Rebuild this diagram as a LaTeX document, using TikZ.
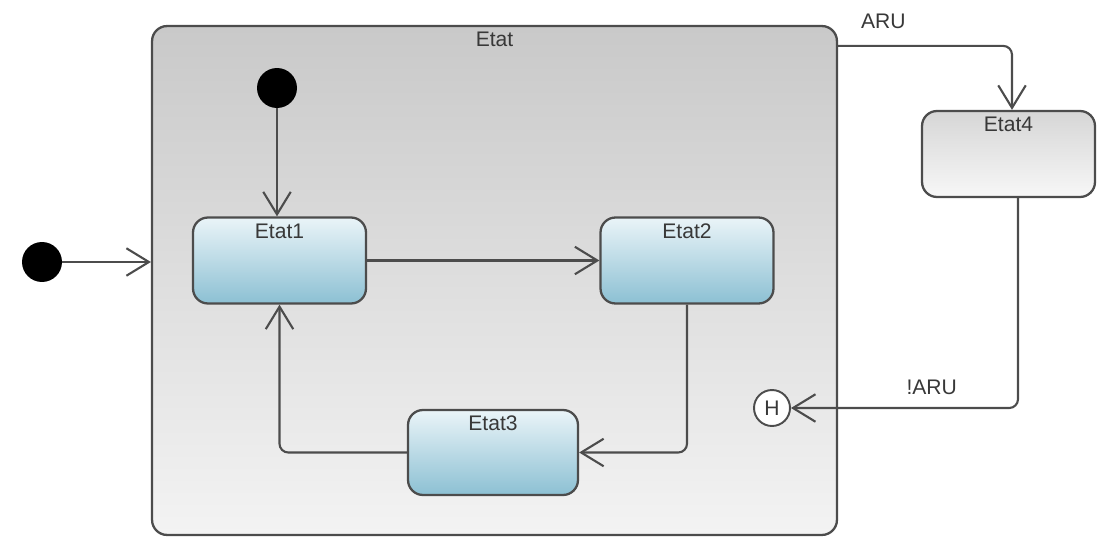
\documentclass[tikz,border=0pt]{standalone}
\usepackage{fontspec}
\setmainfont{Liberation Sans}
\usetikzlibrary{positioning,arrows.meta,calc}
\definecolor{framegray}{HTML}{4C4C4C}
\definecolor{textgray}{HTML}{383838}
\definecolor{bluetop}{HTML}{EAF4F8}
\definecolor{bluebot}{HTML}{8CC0D3}
\definecolor{supertop}{HTML}{C9C9C9}
\definecolor{superbot}{HTML}{F3F3F3}
\definecolor{plaintop}{HTML}{D6D6D6}
\definecolor{plainbot}{HTML}{F7F7F7}
\tikzset{
  state/.style={draw=framegray, line width=1.3pt, rounded corners=0.3cm,
    minimum width=3.46cm, minimum height=1.72cm,
    top color=bluetop, bottom color=bluebot,
    label={[font=\fontsize{12}{14}\selectfont, text=textgray, anchor=north, inner sep=4pt]north:#1}},
  plainstate/.style={state=#1, top color=plaintop, bottom color=plainbot},
  superstate/.style={state=#1, minimum width=13.7cm, minimum height=10.18cm,
    top color=supertop, bottom color=superbot},
  initial/.style={circle, fill=black, inner sep=0pt, minimum size=0.8cm},
  history/.style={circle, draw=framegray, line width=1.1pt, fill=white, inner sep=0pt,
    minimum size=0.72cm, font=\fontsize{12}{14}\selectfont, text=textgray},
  flow/.style={-{Straight Barb[length=4.5mm, width=5.5mm]}, line width=1.2pt,
    draw=framegray, rounded corners=5pt},
  flabel/.style={font=\fontsize{12}{14}\selectfont, text=textgray, inner sep=2pt},
}
\begin{document}
\begin{tikzpicture}[x=0.02cm,y=-0.02cm]
\useasboundingbox (0,0) rectangle (1112,537);
% composite state
\node[superstate=Etat] (etat) at (494.5,280.5) {};
% inner states
\node[initial] (init1) at (277,88) {};
\node[state=Etat1] (etat1) at (279.5,260.5) {};
\node[state=Etat2] (etat2) at (687,260.5) {};
\node[state=Etat3, minimum width=3.4cm, minimum height=1.7cm] (etat3) at (493,452.5) {};
\node[history] (hist) at (772,408) {H};
% outside
\node[initial] (init0) at (42,262) {};
\node[plainstate=Etat4] (etat4) at (1008.5,154) {};
% transitions
\draw[flow] (init0) -- (init0 -| etat.west);
\draw[flow] (init1) -- (init1 |- etat1.north);
\draw[flow] (etat1) -- (etat2);
\draw[flow] (etat2.south) |- (etat3.east);
\draw[flow] (etat3.west) -| (etat1.south);
\draw[flow] ([yshift=-0.42cm]etat.north east) -| node[flabel, pos=0.13, above=7pt]{ARU} ([xshift=0.07cm]etat4.north);
\draw[flow] ([xshift=0.19cm]etat4.south) |- node[flabel, pos=0.69, above=5pt]{!ARU} (hist.east);
\end{tikzpicture}
\end{document}
